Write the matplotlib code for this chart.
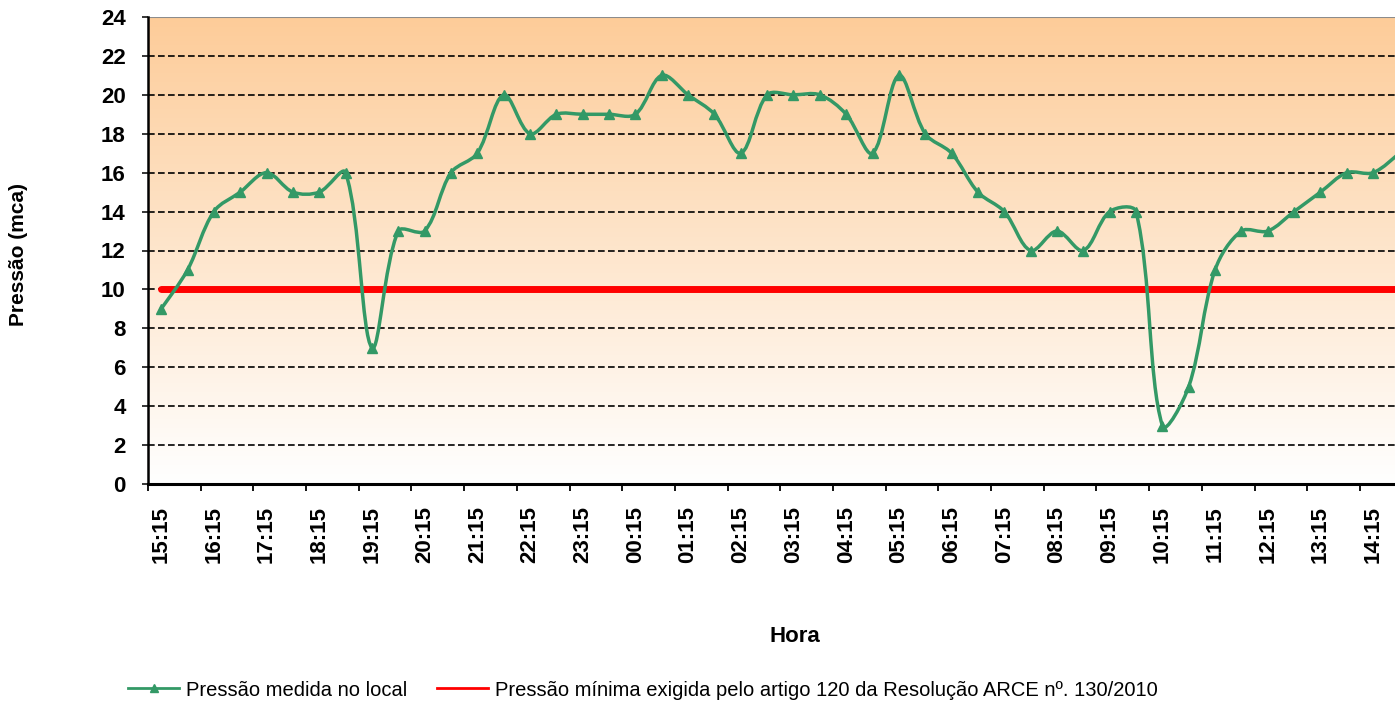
import numpy as np
import matplotlib.pyplot as plt
from matplotlib.path import Path
from matplotlib.patches import PathPatch
from matplotlib.colors import LinearSegmentedColormap
from matplotlib.lines import Line2D

plt.rcParams['font.family'] = ['Liberation Sans', 'DejaVu Sans']

# data: one reading every 30 minutes, starting 15:15
hour_labels = ['15:15', '16:15', '17:15', '18:15', '19:15', '20:15', '21:15', '22:15',
               '23:15', '00:15', '01:15', '02:15', '03:15', '04:15', '05:15', '06:15',
               '07:15', '08:15', '09:15', '10:15', '11:15', '12:15', '13:15', '14:15']
pressure = [9, 11, 14, 15, 16, 15, 15, 16, 7, 13, 13, 16, 17, 20, 18, 19,
            19, 19, 19, 21, 20, 19, 17, 20, 20, 20, 19, 17, 21, 18, 17, 15,
            14, 12, 13, 12, 14, 14, 3, 5, 11, 13, 13, 14, 15, 16, 16, 17]
minimum = [10] * len(pressure)

green = '#339966'
x = np.arange(len(pressure))

fig = plt.figure(figsize=(13.95, 7.04), dpi=100)
ax = fig.add_axes([148/1395, 1-484/704, (1395-148)/1395, (484-17)/704])
ax.set_xlim(-0.5, 46.83)
ax.set_ylim(0, 24)

# peach gradient background
cmap = LinearSegmentedColormap.from_list('peach', ['#FFFFFF', '#FDCC99'])
grad = np.linspace(0, 1, 256).reshape(-1, 1)
ax.imshow(grad, extent=(-0.5, 46.83, 0, 24), origin='lower', aspect='auto',
          cmap=cmap, zorder=0)

# dashed gridlines
for yv in range(2, 24, 2):
    ax.axhline(yv, color='black', lw=1.2, ls=(0, (4, 2)), zorder=1)
ax.axhline(24, color='#8c8c8c', lw=1.5, zorder=1)

# minimum pressure line
ax.plot(x, minimum, color='red', lw=5, solid_capstyle='round', zorder=2)

# smoothed line: bezier with tangents weighted by segment length (screen space)
pts = np.column_stack([x, pressure]).astype(float)
pix = ax.transData.transform(pts)
n = len(pts)
d = np.hypot(*np.diff(pix, axis=0).T)  # segment lengths in pixels
verts = [pts[0]]
codes = [Path.MOVETO]
for i in range(n - 1):
    p0 = pts[i - 1] if i > 0 else pts[i]
    p1 = pts[i]
    p2 = pts[i + 1]
    p3 = pts[i + 2] if i + 2 < n else pts[i + 1]
    dprev = d[i - 1] if i > 0 else d[i]
    dnext = d[i + 1] if i + 1 < n - 1 else d[i]
    c1 = p1 + (p2 - p0) * d[i] / (dprev + d[i]) / 3
    c2 = p2 - (p3 - p1) * d[i] / (d[i] + dnext) / 3
    verts += [c1, c2, p2]
    codes += [Path.CURVE4] * 3
ax.add_patch(PathPatch(Path(verts, codes), fill=False, edgecolor=green, lw=2.5,
                       zorder=3, capstyle='round', joinstyle='round'))
ax.plot(x, pressure, ls='none', marker='^', ms=7, color=green, zorder=4)

# axes styling
for s in ['top', 'right']:
    ax.spines[s].set_visible(False)
ax.spines['left'].set_linewidth(1.8)
ax.spines['bottom'].set_linewidth(2.2)
ax.spines['left'].set_zorder(5)
ax.spines['bottom'].set_zorder(5)

ax.set_yticks(range(0, 25, 2))
ax.tick_params(axis='y', direction='out', length=4, width=1.1, pad=12,
               labelsize=16)
for t in ax.get_yticklabels():
    t.set_fontweight('bold')

# ticks between category pairs, labels on every other reading
ax.set_xticks(np.arange(-0.5, 47, 2))
ax.set_xticklabels([])
ax.set_xticks(x[::2], minor=True)
ax.set_xticklabels(hour_labels, minor=True, rotation=90, fontsize=16,
                   fontweight='bold')
ax.tick_params(axis='x', which='major', direction='out', length=5, width=1.3)
ax.tick_params(axis='x', which='minor', length=0, pad=16)

fig.text(19/1395, 1-254/704, 'Pressão (mca)', rotation=90, ha='center',
         va='center', fontsize=15, fontweight='bold')
fig.text(795/1395, 1-636/704, 'Hora', ha='center', va='center',
         fontsize=16, fontweight='bold')

handles = [Line2D([], [], color=green, lw=2, marker='^', ms=6),
           Line2D([], [], color='red', lw=2)]
fig.legend(handles, ['Pressão medida no local',
                     'Pressão mínima exigida pelo artigo 120 da Resolução ARCE nº. 130/2010'],
           loc='center', bbox_to_anchor=(643/1395, 1-690/704), ncol=2,
           frameon=False, fontsize=14.5, handlelength=2.5, handletextpad=0.35,
           columnspacing=1.5)

fig.savefig('out.png', dpi=100)
